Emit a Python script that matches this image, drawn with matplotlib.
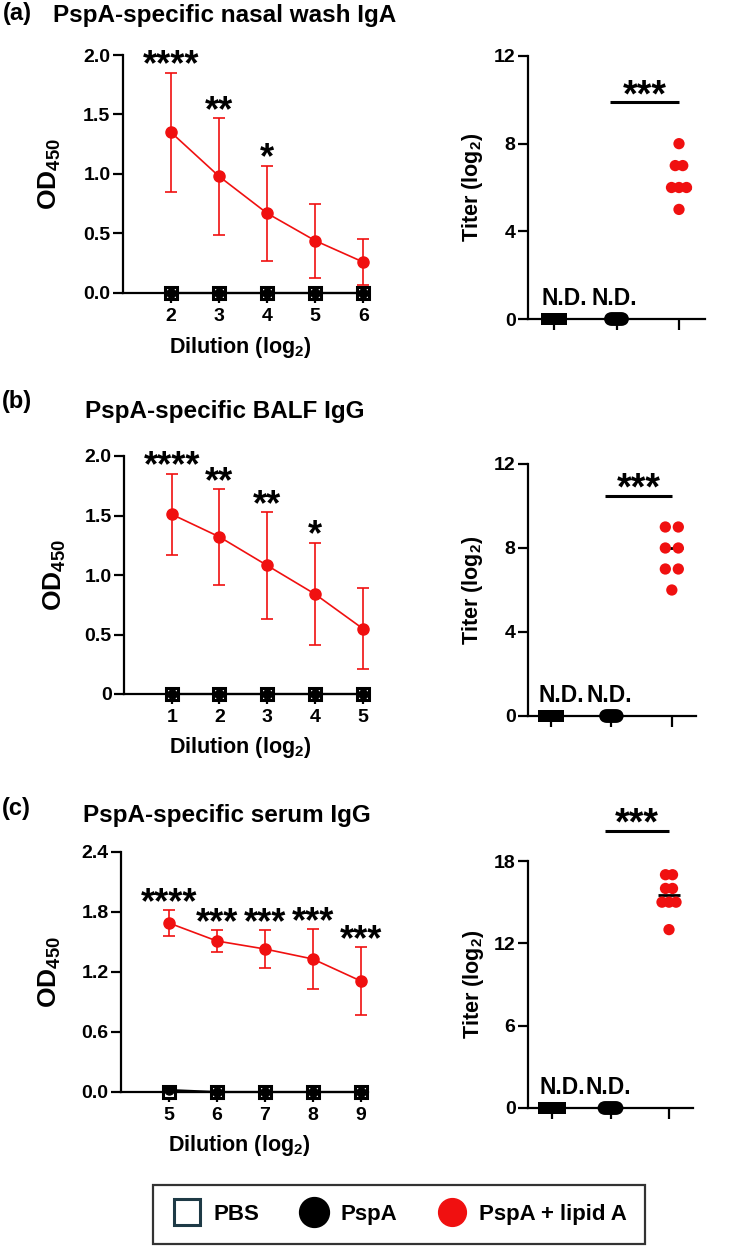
import numpy as np
import matplotlib
matplotlib.use('Agg')
import matplotlib.pyplot as plt
from matplotlib.lines import Line2D

plt.rcParams['font.family'] = ['Liberation Sans', 'DejaVu Sans']
plt.rcParams['font.weight'] = 'bold'
plt.rcParams['axes.labelweight'] = 'bold'
plt.rcParams['mathtext.fontset'] = 'custom'
plt.rcParams['mathtext.rm'] = 'Liberation Sans:bold'
plt.rcParams['mathtext.bf'] = 'Liberation Sans:bold'
plt.rcParams['mathtext.it'] = 'Liberation Sans:bold'
plt.rcParams['mathtext.default'] = 'bf'

# ---------------- data ----------------
panel_labels = ['(a)', '(b)', '(c)']
titles = ['PspA-specific nasal wash IgA', 'PspA-specific BALF IgG', 'PspA-specific serum IgG']

dil_a = [2, 3, 4, 5, 6]
lipid_mean_a = [1.35, 0.98, 0.67, 0.44, 0.26]
lipid_sd_a = [0.50, 0.49, 0.40, 0.31, 0.19]
pbs_a = [0, 0, 0, 0, 0]
pspa_a = [0, 0, 0, 0, 0]
stars_a = ['****', '**', '*', '', '']
yticks_a = [0, 0.5, 1.0, 1.5, 2.0]
yticklabels_a = ['0.0', '0.5', '1.0', '1.5', '2.0']

dil_b = [1, 2, 3, 4, 5]
lipid_mean_b = [1.51, 1.32, 1.08, 0.84, 0.55]
lipid_sd_b = [0.34, 0.40, 0.45, 0.43, 0.34]
pbs_b = [0, 0, 0, 0, 0]
pspa_b = [0, 0, 0, 0, 0]
stars_b = ['****', '**', '**', '*', '']
yticks_b = [0, 0.5, 1.0, 1.5, 2.0]
yticklabels_b = ['0', '0.5', '1.0', '1.5', '2.0']

dil_c = [5, 6, 7, 8, 9]
lipid_mean_c = [1.69, 1.51, 1.43, 1.33, 1.11]
lipid_sd_c = [0.13, 0.11, 0.19, 0.30, 0.34]
pbs_c = [0, 0, 0, 0, 0]
pspa_c = [0.02, 0, 0, 0, 0]
stars_c = ['****', '***', '***', '***', '***']
yticks_c = [0, 0.6, 1.2, 1.8, 2.4]
yticklabels_c = ['0.0', '0.6', '1.2', '1.8', '2.4']

groups = ['PBS', 'PspA', 'PspA + lipid A']
titer_pbs_a = [0, 0, 0, 0, 0, 0, 0]
titer_pspa_a = [0, 0, 0, 0, 0, 0, 0]
titer_lipid_a = [8, 7, 7, 6, 6, 6, 5]
titer_yticks_a = [0, 4, 8, 12]

titer_pbs_b = [0, 0, 0, 0, 0, 0, 0]
titer_pspa_b = [0, 0, 0, 0, 0, 0, 0]
titer_lipid_b = [9, 9, 8, 8, 7, 7, 6]
titer_yticks_b = [0, 4, 8, 12]

titer_pbs_c = [0, 0, 0, 0, 0, 0, 0, 0]
titer_pspa_c = [0, 0, 0, 0, 0, 0, 0, 0]
titer_lipid_c = [17, 17, 16, 16, 15, 15, 15, 13]
titer_yticks_c = [0, 6, 12, 18]

titer_sig = '***'
nd_label = 'N.D.'
sig_bar_y = [9.9, 10.5, 20.2]

# ---------------- style ----------------
RED = '#f01010'
W, H = 742, 1248
fig = plt.figure(figsize=(W / 100, H / 100), dpi=100)


def box(l, t, r, b):
    return [l / W, 1 - b / H, (r - l) / W, (b - t) / H]


def style_axes(ax):
    for s in ['top', 'right']:
        ax.spines[s].set_visible(False)
    for s in ['left', 'bottom']:
        ax.spines[s].set_linewidth(1.6)
    ax.tick_params(axis='both', which='both', width=1.6, length=7, labelsize=14, direction='out')
    ax.tick_params(axis='y', pad=2)
    ax.tick_params(axis='x', pad=4)


def swarm(values, step):
    values = np.asarray(values, dtype=float)
    off = np.zeros_like(values)
    for v in np.unique(values):
        idx = np.where(values == v)[0]
        n = len(idx)
        off[idx] = (np.arange(n) - (n - 1) / 2) * step
    return off


left_specs = [
    dict(box=(123, 55, 368, 293), dil=dil_a, m=lipid_mean_a, sd=lipid_sd_a, pbs=pbs_a, pspa=pspa_a,
         stars=stars_a, yt=yticks_a, ytl=yticklabels_a, xlim=(1, 6.1), ylim=(0, 2.0),
         ylab_x=-0.298, xlab_y=-0.227),
    dict(box=(124, 456, 367, 694), dil=dil_b, m=lipid_mean_b, sd=lipid_sd_b, pbs=pbs_b, pspa=pspa_b,
         stars=stars_b, yt=yticks_b, ytl=yticklabels_b, xlim=(0, 5.09), ylim=(0, 2.0),
         ylab_x=-0.284, xlab_y=-0.223),
    dict(box=(121, 852, 368, 1092), dil=dil_c, m=lipid_mean_c, sd=lipid_sd_c, pbs=pbs_c, pspa=pspa_c,
         stars=stars_c, yt=yticks_c, ytl=yticklabels_c, xlim=(4, 9.15), ylim=(0, 2.4),
         ylab_x=-0.287, xlab_y=-0.221),
]

right_specs = [
    dict(box=(528, 56, 705, 319), pbs=titer_pbs_a, pspa=titer_pspa_a, lip=titer_lipid_a,
         yt=titer_yticks_a, xlim=(-0.416, 2.416), step=0.12, ylab_x=-0.316),
    dict(box=(528, 464, 696, 716), pbs=titer_pbs_b, pspa=titer_pspa_b, lip=titer_lipid_b,
         yt=titer_yticks_b, xlim=(-0.38, 2.40), step=0.215, ylab_x=-0.333),
    dict(box=(528, 861, 693, 1108), pbs=titer_pbs_c, pspa=titer_pspa_c, lip=titer_lipid_c,
         yt=titer_yticks_c, xlim=(-0.41, 2.41), step=0.12, ylab_x=-0.333),
]

# ---------------- left panels ----------------
for i, sp in enumerate(left_specs):
    ax = fig.add_axes(box(*sp['box']))
    style_axes(ax)
    x = np.array(sp['dil'], dtype=float)
    m = np.array(sp['m'])
    sd = np.array(sp['sd'])
    ax.plot(x, sp['pbs'], color='black', lw=1.5, marker='s', ms=9, mfc='white', mec='black',
            mew=2.2, clip_on=False, zorder=4)
    ax.plot(x, sp['pspa'], color='black', lw=1.5, marker='o', ms=6.5, mfc='black', mec='black',
            clip_on=False, zorder=5)
    ax.errorbar(x, m, yerr=sd, color=RED, lw=1.2, elinewidth=1.2, capsize=4, capthick=1.2,
                marker='o', ms=8, mfc=RED, mec=RED, clip_on=False, zorder=6)
    for xi, mi, si, st in zip(x, m, sd, sp['stars']):
        if st:
            ax.annotate(st, xy=(xi, mi + si), xytext=(0, -2), textcoords='offset points',
                        ha='center', va='baseline', fontsize=26, annotation_clip=False)
    ax.set_xlim(*sp['xlim'])
    ax.set_ylim(*sp['ylim'])
    ax.set_xticks(x)
    ax.set_xticklabels([str(int(v)) for v in x])
    ax.set_yticks(sp['yt'])
    ax.set_yticklabels(sp['ytl'])
    ax.set_ylabel('OD$_{450}$', fontsize=19, va='center')
    ax.yaxis.set_label_coords(sp['ylab_x'], 0.5)
    ax.set_xlabel('Dilution (log$_2$)', fontsize=15.5, va='center')
    ax.xaxis.set_label_coords(0.48, sp['xlab_y'])

# ---------------- right panels ----------------
for i, sp in enumerate(right_specs):
    ax = fig.add_axes(box(*sp['box']))
    style_axes(ax)
    series = [(sp['pbs'], 's', 'black', 0.037, 80), (sp['pspa'], 'o', 'black', 0.03, 95),
              (sp['lip'], 'o', RED, sp['step'], 66)]
    for g, (vals, mk, col, step, s) in enumerate(series):
        vals = np.asarray(vals, dtype=float)
        med = np.median(vals)
        ax.hlines(med, g - 0.19, g + 0.19, color='black', lw=2.0, zorder=3)
        ax.scatter(g + swarm(vals, step), vals, marker=mk, s=s, color=col, edgecolors='none',
                   clip_on=False, zorder=4)
    ax.set_xlim(*sp['xlim'])
    ax.set_ylim(0, sp['yt'][-1])
    ax.set_yticks(sp['yt'])
    ax.set_xticks([0, 1, 2])
    ax.set_xticklabels(['', '', ''])
    ax.tick_params(axis='x', length=8)
    ax.set_ylabel('Titer (log$_2$)', fontsize=15.5, va='center')
    ax.yaxis.set_label_coords(sp['ylab_x'], 0.5)
    # N.D. labels
    for g, dx in zip([0, 1], [0.17, -0.03]):
        ax.annotate(nd_label, xy=(g + dx, 0), xytext=(0, 15), textcoords='offset points',
                    ha='center', va='center', fontsize=16.5, annotation_clip=False)
    # significance bar
    ax.plot([0.9, 2.0], [sig_bar_y[i]] * 2, color='black', lw=2.2, clip_on=False, solid_capstyle='butt')
    ax.annotate(titer_sig, xy=(1.45, sig_bar_y[i]), xytext=(0, -3), textcoords='offset points',
                ha='center', va='baseline', fontsize=27, annotation_clip=False)

# ---------------- titles ----------------
lab_pos = [(3, 20), (2, 408), (2, 815)]
title_pos = [(53, 22), (85, 418), (83, 822)]
for lab, tt, (lx, ly), (tx, ty) in zip(panel_labels, titles, lab_pos, title_pos):
    fig.text(lx / W, 1 - ly / H, lab, fontsize=17, ha='left', va='baseline')
    fig.text(tx / W, 1 - ty / H, tt, fontsize=17.5, ha='left', va='baseline')

# ---------------- legend ----------------
handles = [
    Line2D([], [], ls='none', marker='s', ms=19, mfc='white', mec='#1e3a46', mew=2.2),
    Line2D([], [], ls='none', marker='o', ms=21.5, mfc='black', mec='black'),
    Line2D([], [], ls='none', marker='o', ms=20, mfc=RED, mec=RED),
]
leg = fig.legend(handles, groups, loc='center', bbox_to_anchor=(399 / W, 1 - 1214.5 / H), ncol=3,
                 fontsize=16, frameon=True, fancybox=False, edgecolor='black', handlelength=1.4,
                 handletextpad=0.5, columnspacing=1.75, borderpad=0.85)
leg.get_frame().set_linewidth(1.6)

fig.savefig('out.png', dpi=100)
